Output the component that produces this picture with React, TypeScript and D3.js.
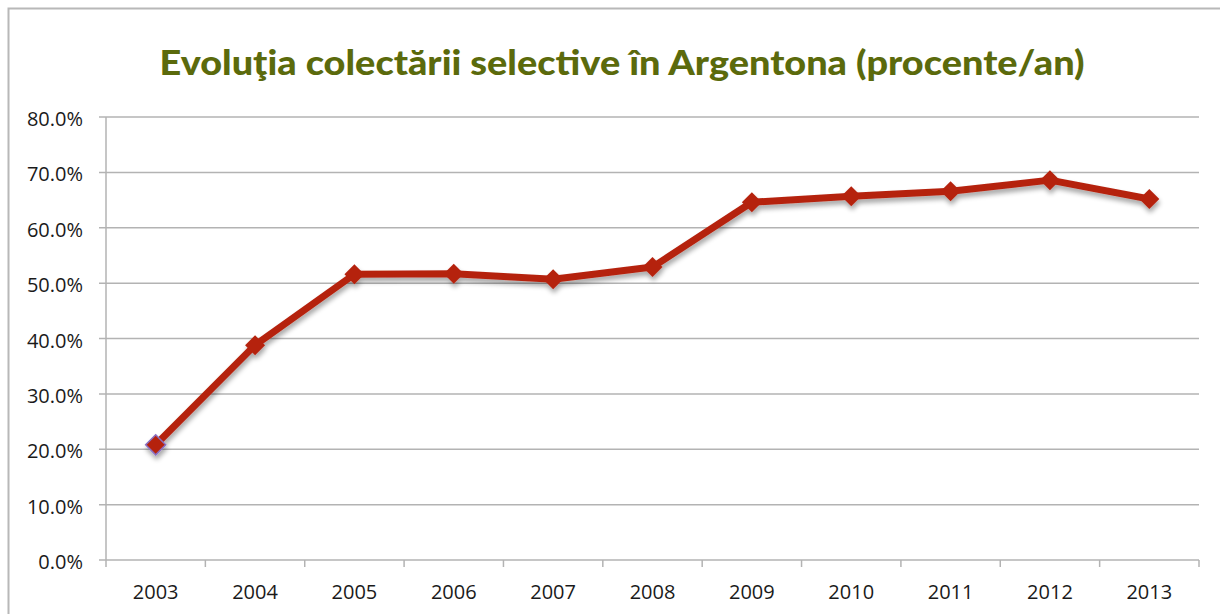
import React from "react";
import * as d3 from "d3";

const years = ["2003","2004","2005","2006","2007","2008","2009","2010","2011","2012","2013"];
const values = [20.8, 38.8, 51.6, 51.7, 50.7, 52.9, 64.6, 65.7, 66.6, 68.6, 65.2];
const yTicks = [0, 10, 20, 30, 40, 50, 60, 70, 80];
const title = "Evoluţia colectării selective în Argentona (procente/an)";

export default function App() {
  const W = 1220, H = 614;
  const left = 106, right = 1199, top = 117, bottom = 560;
  const x = d3.scaleBand<string>().domain(years).range([left, right]);
  const y = d3.scaleLinear().domain([0, 80]).range([bottom, top]);
  const cx = (d: string) => (x(d) as number) + x.bandwidth() / 2;
  const line = d3.line<number>().x((_, i) => cx(years[i])).y((v) => y(v));
  const path = line(values) as string;
  const diamond = (px: number, py: number, r: number) =>
    `M${px},${py - r}L${px + r},${py}L${px},${py + r}L${px - r},${py}Z`;
  const font = "'Open Sans', sans-serif";
  return (
    <svg width={W} height={H} style={{ position: "absolute", left: 0, top: 0, background: "#fff" }}>
      <defs>
        <filter id="sh" x="-10%" y="-10%" width="120%" height="130%">
          <feGaussianBlur in="SourceAlpha" stdDeviation="2.5" />
          <feOffset dx="1" dy="4" result="b" />
          <feComponentTransfer><feFuncA type="linear" slope="0.35" /></feComponentTransfer>
          <feMerge><feMergeNode /><feMergeNode in="SourceGraphic" /></feMerge>
        </filter>
      </defs>
      <rect x={8.5} y={8.5} width={1240} height={640} fill="#fff" stroke="#b8b8b8" strokeWidth={2} />
      <text x={622} y={75} textAnchor="middle" fontFamily="Lato, sans-serif" fontWeight="900" fontSize={34} fill="#5b6a0c" textLength={925} lengthAdjust="spacingAndGlyphs">{title}</text>
      {yTicks.map((t) => (
        <g key={t}>
          <line x1={left - 7} x2={right} y1={y(t)} y2={y(t)} stroke="#b3b3b3" strokeWidth={1.5} />
          <text x={83} y={y(t) + 9} textAnchor="end" fontFamily={font} fontSize={20} fill="#1a1a1a">{t.toFixed(1)}%</text>
        </g>
      ))}
      <line x1={left} x2={left} y1={top} y2={bottom} stroke="#b3b3b3" strokeWidth={1.5} />
      {years.map((yr, i) => (
        <line key={"t" + i} x1={x(yr) as number} x2={x(yr) as number} y1={bottom} y2={bottom + 7} stroke="#b3b3b3" strokeWidth={1.5} />
      ))}
      <line x1={right} x2={right} y1={bottom} y2={bottom + 7} stroke="#b3b3b3" strokeWidth={1.5} />
      {years.map((yr) => (
        <text key={yr} x={cx(yr)} y={599} textAnchor="middle" fontFamily={font} fontSize={20} fill="#1a1a1a">{yr}</text>
      ))}
      <g filter="url(#sh)">
        <path d={path} fill="none" stroke="#b52310" strokeWidth={7} strokeLinejoin="round" />
        {values.map((v, i) => (
          <path key={i} d={diamond(cx(years[i]), y(v), 10)} fill="#b52310"
            stroke={i === 0 ? "#8a6fc0" : "none"} strokeWidth={i === 0 ? 1.5 : 0} />
        ))}
      </g>
    </svg>
  );
}
